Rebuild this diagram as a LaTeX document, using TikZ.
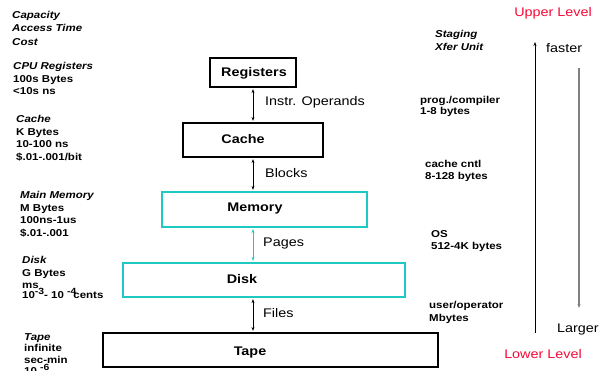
\documentclass[tikz,border=0pt]{standalone}
\usepackage{fontspec}
\setmainfont{Liberation Sans}[FakeStretch=1.15]
\usetikzlibrary{arrows.meta}
\definecolor{turq}{RGB}{30,200,195}
\definecolor{lvlred}{RGB}{245,10,55}
\newcommand{\sups}[1]{\raisebox{4.5pt}{\fontsize{9}{9}\selectfont #1}}
\tikzset{
  box/.style={draw, line width=1.2pt, inner sep=0pt, font=\bfseries\fontsize{12.5}{15}\selectfont},
  cbox/.style={box, draw=turq},
  boxtext/.style={inner sep=0pt, font=\bfseries\fontsize{12.5}{15}\selectfont},
  lbl/.style={anchor=west, inner sep=0pt, font=\fontsize{12.5}{15}\selectfont},
  info/.style={anchor=north west, inner sep=0pt, align=left, font=\bfseries\fontsize{10}{12.7}\selectfont},
  lvl/.style={inner sep=0pt, text=lvlred, font=\fontsize{12.5}{15}\selectfont},
  dbl/.style={{Stealth[length=4pt,width=3pt]}-{Stealth[length=4pt,width=3pt]}, line width=0.8pt, shorten <=1.5pt, shorten >=1.5pt},
}
\begin{document}
\begin{tikzpicture}[x=1pt,y=-1pt]
\useasboundingbox (0,0) rectangle (602,371);
% boxes
\node[box, minimum width=86pt, minimum height=29pt] (reg) at (253,72.5) {};
\node[boxtext] (regt) at (254,73.5) {Registers};
\node[box, minimum width=140pt, minimum height=34pt] (cache) at (253,140) {};
\node[boxtext] (cachet) at (243,139) {Cache};
\node[cbox, minimum width=205pt, minimum height=35pt] (mem) at (264.5,209.5) {};
\node[boxtext] (memt) at (255,208.5) {Memory};
\node[cbox, minimum width=282pt, minimum height=34pt] (disk) at (264,280) {};
\node[boxtext] (diskt) at (242,279.5) {Disk};
\node[box, minimum width=335pt, minimum height=34pt] (tape) at (270.5,350) {};
\node[boxtext] (tapet) at (250,352) {Tape};
% connectors
\draw[dbl] (reg.south) -- (reg.south |- cache.north);
\draw[dbl] (cache.south) -- (cache.south |- mem.north);
\draw[dbl, draw=turq, line width=1pt] (mem.south -| cache.south) -- (disk.north -| cache.south);
\draw[dbl] (disk.south -| cache.south) -- (tape.north -| cache.south);
\node[lbl] (l1) at (265,102) {Instr. Operands};
\node[lbl] (l2) at (265,173) {Blocks};
\node[lbl] (l3) at (263,243) {Pages};
\node[lbl] (l4) at (263,313) {Files};
% left column
\node[info, font=\bfseries\itshape\fontsize{10}{13.5}\selectfont] (hdr) at (12,11) {Capacity\\Access Time\\Cost};
\node[info] (i1) at (13,62) {\textit{CPU Registers}\\100s Bytes\\<10s ns};
\node[info] (i2) at (16,115) {\textit{Cache}\\K Bytes\\10-100 ns\\\$.01-.001/bit};
\node[info] (i3) at (20,191) {\textit{Main Memory}\\M Bytes\\100ns-1us\\\$.01-.001};
\node[info] (i4) at (22,256) {\textit{Disk}\\G Bytes\\ms\\[-3pt]10\sups{-3}- 10 \sups{-4}\hspace{-3pt}cents};
\node[info, font=\bfseries\fontsize{10}{11.5}\selectfont] (i5) at (24,333) {\textit{Tape}\\infinite\\sec-min\\10 \sups{-6}};
% right column
\node[info, font=\bfseries\itshape\fontsize{10}{13}\selectfont] (s0) at (435,30) {Staging\\Xfer Unit};
\node[info, font=\bfseries\fontsize{10}{11.5}\selectfont] (s1) at (420,96) {prog./compiler\\1-8 bytes};
\node[info, font=\bfseries\fontsize{10}{12}\selectfont] (s2) at (425,160) {cache cntl\\8-128 bytes};
\node[info, font=\bfseries\fontsize{10}{12}\selectfont] (s3) at (431,230) {OS\\512-4K bytes};
\node[info, font=\bfseries\fontsize{10}{13}\selectfont] (s4) at (429,301) {user/operator\\Mbytes};
% level indicators
\node[lvl] (up) at (553,13) {Upper Level};
\node[lvl] (low) at (543,354) {Lower Level};
\node[lbl] (fast) at (546,48) {faster};
\node[lbl] (large) at (557,329) {Larger};
\coordinate (fb) at (535,333);
\coordinate (ft) at (535,42);
\coordinate (gt) at (579,68);
\coordinate (gb) at (579,308);
\draw[-{Stealth[length=4pt,width=3pt]}, line width=0.8pt] (fb) -- (ft);
\draw[-{Stealth[length=4pt,width=3pt]}, line width=1.1pt, draw=gray] (gt) -- (gb);
\end{tikzpicture}
\end{document}
